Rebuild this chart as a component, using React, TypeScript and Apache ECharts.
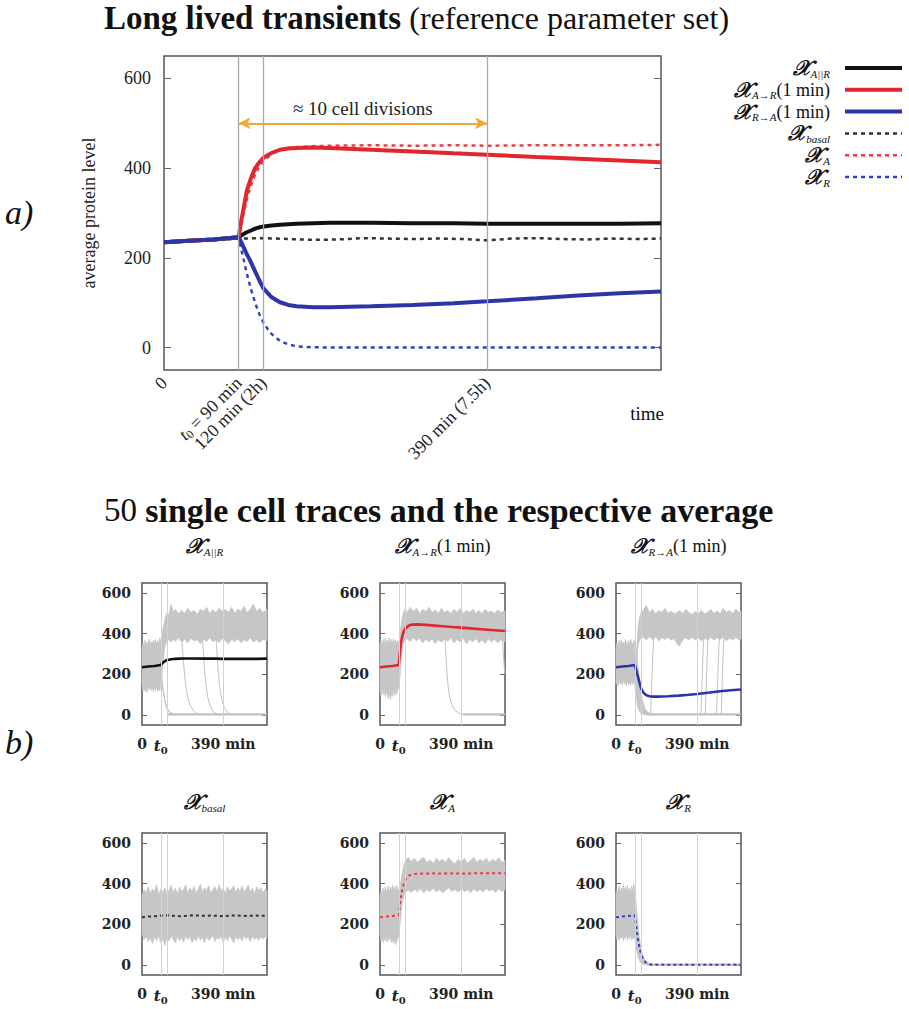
import React, { useEffect, useRef } from 'react';
import * as echarts from 'echarts';

const SERIF = "'Liberation Serif', 'DejaVu Serif', serif";
const BSERIF = "'DejaVu Serif', 'Liberation Serif', serif";
const CHI = '𝒳';

const X_MIN = 0;
const X_MAX = 600;
const Y_MIN = -50;
const Y_MAX = 650;
const yTicks = [0, 200, 400, 600];
const mainXTicks = [0, 90, 120, 390];
const mainXLabels = ['{n|0}', '{it|t}{sub|0}{n| = 90 min}', '{n|120 min (2h)}', '{n|390 min (7.5h)}'];
const panelXTicks = [0, 90, 390];
const panelXLabels = ['0', '{it|t}{sub|0}', '390 min'];
const markerTimes = [90, 120, 390];
const arrowStart = [90, 500];
const arrowEnd = [390, 500];
const arrowText = '≈ 10 cell divisions';

// ---- averages (main panel) ----
const avgAR = [[0,235],[30,238],[60,241],[90,246],[95,252],[100,257],[105,261],[110,265],[115,268],[120,270],[130,272],[140,274],[150,275],[160,276],[180,277],[200,278],[250,278],[300,277],[350,277],[390,276],[450,276],[500,276],[550,276],[600,277]];
const avgAtoR = [[0,235],[30,238],[60,241],[90,246],[93,280],[95,300],[100,350],[105,378],[110,400],[115,413],[120,423],[130,434],[140,441],[150,444],[160,445],[180,446],[200,445],[250,441],[300,437],[350,433],[390,430],[450,425],[500,421],[550,417],[600,413]];
const avgRtoA = [[0,235],[30,238],[60,241],[90,246],[93,236],[96,224],[100,208],[104,194],[110,170],[115,150],[120,132],[130,112],[140,101],[150,95],[160,92],[180,90],[200,90],[250,92],[300,95],[350,99],[390,103],[450,110],[500,116],[550,121],[600,125]];
const avgBasal = [[0,235],[30,238],[60,240],[90,243],[120,244],[150,242],[180,240],[210,241],[240,244],[270,243],[300,242],[330,243],[360,242],[390,239],[420,243],[450,244],[480,242],[510,241],[540,243],[570,242],[600,243]];
const avgA = [[0,235],[30,238],[60,241],[90,245],[95,290],[100,330],[105,362],[110,385],[115,403],[120,416],[130,432],[140,441],[150,445],[160,447],[180,449],[200,450],[250,451],[300,450],[350,451],[390,450],[450,451],[500,451],[550,451],[600,452]];
const avgR = [[0,235],[30,238],[60,241],[90,245],[95,205],[100,165],[105,130],[110,100],[115,75],[120,56],[125,42],[130,30],[140,15],[150,7],[160,3],[175,1],[200,0],[250,0],[300,0],[350,0],[400,0],[450,0],[500,0],[550,0],[600,0]];

// ---- single-cell envelopes [t, low, high] ----
const bandAR = [[0,150,330],[5,120,355],[10,140,345],[15,115,370],[20,135,340],[25,110,360],[30,140,350],[35,125,375],[40,145,345],[45,118,362],[50,138,350],[55,112,368],[60,135,348],[65,120,372],[70,140,352],[75,115,365],[80,130,345],[85,118,378],[90,140,360],[95,190,390],[100,250,420],[105,300,445],[110,335,470],[115,350,490],[120,365,505],[130,370,495],[140,358,545],[150,375,505],[160,362,520],[175,380,498],[190,360,515],[205,372,500],[220,355,525],[235,378,505],[250,365,515],[265,370,495],[280,350,520],[295,375,510],[310,362,530],[325,380,500],[340,360,518],[355,372,505],[370,355,525],[385,378,510],[400,365,520],[415,350,505],[430,372,530],[445,360,500],[460,375,522],[475,355,510],[490,370,535],[505,362,505],[520,380,520],[535,358,545],[550,370,510],[565,355,525],[580,372,505],[600,365,520]];
const bandAtoR = [[0,120,345],[5,95,365],[10,130,340],[15,100,372],[20,125,350],[25,90,378],[30,115,345],[35,100,368],[40,80,355],[45,110,380],[50,75,350],[55,105,372],[60,90,348],[65,120,375],[70,95,352],[75,115,370],[80,100,345],[85,125,365],[90,130,355],[94,160,370],[98,220,410],[102,280,445],[106,320,475],[110,345,495],[115,360,510],[120,370,520],[130,375,505],[145,362,530],[160,380,510],[175,365,525],[190,378,500],[205,355,520],[220,372,508],[235,360,530],[250,375,505],[265,352,518],[280,370,500],[295,358,525],[310,375,505],[325,362,515],[340,380,498],[355,355,520],[370,372,505],[385,360,525],[400,378,500],[415,350,515],[430,372,505],[445,360,522],[460,375,500],[475,355,515],[490,370,498],[505,352,520],[520,375,505],[535,360,512],[550,372,500],[565,355,518],[580,370,505],[600,360,512]];
const bandRtoAPre = [[0,150,330],[5,168,352],[10,142,340],[15,172,366],[20,150,345],[25,162,370],[30,146,350],[35,170,360],[40,152,340],[45,166,372],[50,142,355],[55,168,345],[60,150,368],[65,160,350],[70,146,372],[75,170,356],[80,150,345],[85,162,368],[90,150,360],[95,105,335],[100,65,295],[105,38,245],[110,22,195],[115,12,150],[120,6,110],[130,2,60],[140,0,30],[150,0,15],[165,0,6],[180,0,3]];
const bandRtoAHigh = [[98,250,290],[102,300,370],[106,340,425],[110,360,460],[115,372,488],[120,380,505],[130,385,515],[145,370,540],[160,385,505],[175,372,520],[190,385,498],[205,365,515],[220,380,505],[235,372,525],[250,382,500],[265,368,512],[280,378,498],[295,345,505],[305,340,515],[320,370,500],[335,380,520],[350,368,505],[365,382,495],[380,370,510],[395,380,500],[410,365,515],[425,378,498],[440,370,505],[455,382,520],[470,368,500],[485,380,512],[500,372,498],[515,385,525],[530,365,505],[545,378,515],[560,370,500],[575,382,522],[590,368,505],[600,375,512]];
const bandBasal = [[0,150,345],[10,125,370],[20,140,355],[30,115,385],[40,135,350],[50,105,375],[60,140,360],[70,120,395],[80,145,345],[90,110,372],[100,130,358],[110,95,380],[120,138,350],[130,118,368],[140,145,392],[150,125,355],[160,108,378],[170,140,348],[180,120,385],[190,135,360],[200,112,372],[210,145,395],[220,125,350],[230,140,380],[240,110,362],[250,132,388],[260,118,352],[270,145,375],[280,122,398],[290,135,358],[300,108,380],[310,140,365],[320,120,390],[330,130,352],[340,145,372],[350,115,385],[360,135,358],[370,125,395],[380,142,362],[390,112,378],[400,138,350],[410,120,385],[420,145,365],[430,128,375],[440,110,390],[450,140,355],[460,125,380],[470,135,362],[480,118,388],[490,145,358],[500,128,375],[510,138,392],[520,115,360],[530,142,378],[540,125,350],[550,135,385],[560,120,368],[570,140,380],[580,128,355],[590,138,372],[600,130,365]];
const bandA = [[0,150,340],[5,120,365],[10,140,345],[15,110,378],[20,135,350],[25,118,385],[30,142,355],[35,112,372],[40,130,390],[45,120,360],[50,138,382],[55,110,365],[60,128,395],[65,105,370],[70,125,385],[75,100,360],[80,115,392],[85,130,375],[90,140,365],[95,190,380],[100,240,410],[105,290,440],[110,325,470],[115,345,492],[120,355,505],[125,362,515],[135,368,530],[150,358,510],[165,372,525],[180,360,505],[195,375,520],[210,355,530],[225,370,505],[240,362,518],[255,378,500],[270,360,525],[285,372,510],[300,355,520],[315,368,505],[330,380,528],[345,362,510],[360,372,498],[375,358,520],[390,375,505],[405,362,525],[420,370,500],[435,355,515],[450,375,530],[465,362,505],[480,372,520],[495,358,510],[510,375,525],[525,365,505],[540,372,520],[555,358,510],[570,375,528],[585,362,505],[600,370,515]];
const bandR = [[0,145,350],[5,125,372],[10,150,355],[15,120,390],[20,140,360],[25,130,380],[30,150,352],[35,118,395],[40,140,365],[45,128,385],[50,148,358],[55,122,392],[60,140,362],[65,130,380],[70,150,355],[75,120,388],[80,138,365],[85,128,400],[90,140,360],[95,100,320],[100,68,262],[105,44,205],[110,28,155],[115,16,110],[120,9,78],[130,3,42],[140,1,22],[150,0,11],[165,0,5],[180,0,2]];

// ---- individual single-cell traces [t, v] ----
const traceARdown1 = [[90,235],[95,185],[100,140],[105,100],[110,70],[115,48],[120,32],[130,15],[140,7],[150,3],[165,0]];
const traceARdown2 = [[90,210],[97,150],[104,100],[112,60],[120,35],[130,18],[145,6],[160,1]];
const traceARzero = [[120,2],[600,2]];
const traceARswitch1 = [[185,430],[190,390],[195,320],[200,250],[205,190],[212,130],[220,85],[232,45],[248,18],[265,5],[285,0]];
const traceARswitch2 = [[288,410],[292,350],[297,270],[302,200],[308,140],[316,85],[328,40],[345,12],[365,2]];
const traceARswitch3 = [[352,420],[357,350],[362,270],[367,200],[374,130],[383,75],[395,35],[412,10],[430,1]];
const traceAtoRdecay = [[310,400],[314,340],[318,270],[322,200],[327,140],[334,90],[345,50],[360,22],[380,8],[400,2]];
const traceAtoRzero = [[400,2],[600,2]];
const traceAtoRlate = [[585,420],[589,360],[593,290],[597,230],[600,200]];
const traceRtoAzero = [[150,2],[600,2]];
const traceRtoAup1 = [[165,0],[168,50],[172,160],[176,280],[181,380],[188,430]];
const traceRtoAup2 = [[407,0],[411,90],[415,220],[419,340],[425,420]];
const traceRtoAup3 = [[428,0],[432,110],[436,240],[440,350],[446,420]];
const traceRtoAup4 = [[482,0],[486,100],[490,230],[494,340],[500,420]];
const traceRtoAup5 = [[505,0],[509,130],[513,270],[518,380],[524,430]];
const traceRzero = [[150,1],[600,1]];

const BLACK = '#111111';
const RED = '#e3262e';
const BLUE = '#2c35a8';
const DRED = '#ef3b45';
const DBLUE = '#3441c2';
const DBLACK = '#333333';
const GREY = '#c6c6c6';
const ORANGE = '#f5a63a';

const legendItems = [
  { text: `{c|${CHI}}{s|A||R}`, color: BLACK, width: 4, dash: null },
  { text: `{c|${CHI}}{s|A→R}{n|(1 min)}`, color: RED, width: 4, dash: null },
  { text: `{c|${CHI}}{s|R→A}{n|(1 min)}`, color: BLUE, width: 4, dash: null },
  { text: `{c|${CHI}}{s|basal}`, color: DBLACK, width: 2.5, dash: [4, 4] },
  { text: `{c|${CHI}}{s|A}`, color: DRED, width: 2.5, dash: [4, 4] },
  { text: `{c|${CHI}}{s|R}`, color: DBLUE, width: 2.5, dash: [4, 4] },
];

const panels = [
  { title: `{c|${CHI}}{s|A||R}`, bands: [bandAR], traces: [traceARdown1, traceARdown2, traceARswitch1, traceARswitch2, traceARswitch3], zero: traceARzero, mean: avgAR, color: BLACK, dotted: false },
  { title: `{c|${CHI}}{s|A→R}{n|(1 min)}`, bands: [bandAtoR], traces: [traceAtoRdecay, traceAtoRlate], zero: traceAtoRzero, mean: avgAtoR, color: RED, dotted: false },
  { title: `{c|${CHI}}{s|R→A}{n|(1 min)}`, bands: [bandRtoAPre, bandRtoAHigh], traces: [traceRtoAup1, traceRtoAup2, traceRtoAup3, traceRtoAup4, traceRtoAup5], zero: traceRtoAzero, mean: avgRtoA, color: BLUE, dotted: false },
  { title: `{c|${CHI}}{s|basal}`, bands: [bandBasal], traces: [], zero: null, mean: avgBasal, color: DBLACK, dotted: true },
  { title: `{c|${CHI}}{s|A}`, bands: [bandA], traces: [], zero: null, mean: avgA, color: DRED, dotted: true },
  { title: `{c|${CHI}}{s|R}`, bands: [bandR], traces: [], zero: traceRzero, mean: avgR, color: DBLUE, dotted: true },
];

const panelLefts = [142, 380, 616];
const panelTops = [583, 833];
const PANEL_W = 125;
const PANEL_H = 142;

function chiRich(size: number) {
  return {
    c: { fontSize: size + 3, fontFamily: SERIF, fontStyle: 'italic', fontWeight: 'bold', fill: '#111', color: '#111', lineHeight: 22 },
    s: { fontSize: Math.round(size * 0.62), fontFamily: SERIF, fontStyle: 'italic', fill: '#111', color: '#111', lineHeight: 13, verticalAlign: 'bottom' },
    n: { fontSize: size, fontFamily: SERIF, fill: '#111', color: '#111', lineHeight: 22 },
  };
}

function lineSeries(gi: number, data: number[][], color: string, width: number, dash: any, z: number) {
  return {
    type: 'line', xAxisIndex: gi, yAxisIndex: gi, data, symbol: 'none', showSymbol: false, silent: true,
    lineStyle: { color, width, type: dash || 'solid' }, z,
  };
}

function bandSeries(gi: number, data: number[][], color: string) {
  return {
    type: 'custom', xAxisIndex: gi, yAxisIndex: gi, data, silent: true, z: 1,
    encode: { x: 0, y: [1, 2] },
    renderItem: (params: any, api: any) => {
      if (params.dataIndexInside !== 0) return null;
      const n = params.dataInsideLength;
      const lower: number[][] = [];
      const upper: number[][] = [];
      for (let i = 0; i < n; i++) {
        const x = api.value(0, i);
        lower.push(api.coord([x, api.value(1, i)]));
        upper.push(api.coord([x, api.value(2, i)]));
      }
      return { type: 'polygon', shape: { points: lower.concat(upper.reverse()) }, style: { fill: color, stroke: color, lineWidth: 0.8 } };
    },
  };
}

function verticalSeries(gi: number, color: string, width: number) {
  return {
    type: 'line', xAxisIndex: gi, yAxisIndex: gi, data: [], silent: true, z: 2,
    markLine: {
      silent: true, symbol: ['none', 'none'], label: { show: false },
      lineStyle: { color, width, type: 'solid' },
      data: markerTimes.map((t) => ({ xAxis: t })),
    },
  };
}

function buildOption() {
  const grids: any[] = [{ left: 164, top: 56, width: 497, height: 314, show: true, borderColor: '#555', borderWidth: 1.5, backgroundColor: 'transparent' }];
  panels.forEach((_, i) => {
    grids.push({ left: panelLefts[i % 3], top: panelTops[Math.floor(i / 3)], width: PANEL_W, height: PANEL_H, show: true, borderColor: '#555', borderWidth: 1.5, backgroundColor: 'transparent' });
  });

  const mainXRich = {
    n: { fontSize: 18, fontFamily: SERIF, color: '#222', lineHeight: 20 },
    it: { fontSize: 18, fontFamily: SERIF, fontStyle: 'italic', color: '#222', lineHeight: 20 },
    sub: { fontSize: 12, fontFamily: SERIF, color: '#222', lineHeight: 12, verticalAlign: 'bottom' },
  };
  const panelXRich = {
    it: { fontSize: 15, fontFamily: BSERIF, fontStyle: 'italic', fontWeight: 'bold', color: '#222', lineHeight: 18 },
    sub: { fontSize: 10, fontFamily: BSERIF, color: '#222', lineHeight: 11, verticalAlign: 'bottom' },
  };

  const xAxis: any[] = grids.map((_, i) => ({
    type: 'value', gridIndex: i, min: X_MIN, max: X_MAX,
    axisLine: { show: false }, axisTick: { show: false }, splitLine: { show: false },
    axisLabel: i === 0
      ? { customValues: mainXTicks, rotate: 45, margin: 10, rich: mainXRich,
          formatter: (v: number) => mainXLabels[mainXTicks.indexOf(v)] ?? '' }
      : { customValues: panelXTicks, margin: 12, fontSize: 14, fontWeight: 'bold', fontFamily: BSERIF, color: '#222', rich: panelXRich,
          formatter: (v: number) => panelXLabels[panelXTicks.indexOf(v)] ?? '' },
  }));

  const yAxis: any[] = [];
  grids.forEach((_, i) => {
    const main = i === 0;
    yAxis.push({
      type: 'value', gridIndex: i, min: Y_MIN, max: Y_MAX, position: 'left',
      axisLine: { show: false }, splitLine: { show: false },
      axisTick: { show: true, inside: true, length: main ? 7 : 5, customValues: yTicks, lineStyle: { color: '#666', width: 1 } },
      axisLabel: main
        ? { customValues: yTicks, margin: 13, fontSize: 18, fontFamily: SERIF, color: '#222' }
        : { customValues: yTicks, margin: 11, fontSize: 14, fontWeight: 'bold', fontFamily: BSERIF, color: '#222' },
      ...(main ? { name: 'average protein level', nameLocation: 'middle', nameGap: 66, nameTextStyle: { fontSize: 18, fontFamily: SERIF, color: '#222' } } : {}),
    });
  });
  grids.forEach((_, i) => {
    yAxis.push({
      type: 'value', gridIndex: i, min: Y_MIN, max: Y_MAX, position: 'right',
      axisLine: { show: false }, splitLine: { show: false },
      axisTick: { show: true, inside: true, length: i === 0 ? 7 : 5, customValues: yTicks, lineStyle: { color: '#666', width: 1 } },
      axisLabel: { show: false, customValues: yTicks },
    });
  });

  const series: any[] = [];
  series.push(verticalSeries(0, '#a8a8a8', 1.3));
  series.push(lineSeries(0, avgBasal, DBLACK, 2.5, [4, 4], 3));
  series.push(lineSeries(0, avgA, DRED, 2.5, [4, 4], 3));
  series.push(lineSeries(0, avgR, DBLUE, 2.5, [4, 4], 3));
  series.push(lineSeries(0, avgAR, BLACK, 4, null, 4));
  series.push(lineSeries(0, avgAtoR, RED, 4, null, 4));
  series.push(lineSeries(0, avgRtoA, BLUE, 4, null, 4));
  series.push({
    type: 'line', xAxisIndex: 0, yAxisIndex: 0, data: [], silent: true, z: 5,
    markLine: {
      silent: true, symbol: ['arrow', 'arrow'], symbolSize: [9, 12],
      lineStyle: { color: ORANGE, width: 2, type: 'solid' },
      label: { show: true, position: 'insideMiddleTop', formatter: arrowText, fontSize: 19, fontFamily: SERIF, color: '#222', distance: 5 },
      data: [[{ coord: arrowStart }, { coord: arrowEnd }]],
    },
  });

  panels.forEach((p, i) => {
    const gi = i + 1;
    p.bands.forEach((b) => series.push(bandSeries(gi, b, GREY)));
    p.traces.forEach((t) => series.push(lineSeries(gi, t, '#c2c2c2', 1, null, 2)));
    if (p.zero) series.push(lineSeries(gi, p.zero, '#c0c0c0', 2.2, null, 2));
    series.push(verticalSeries(gi, '#d2d2d2', 1));
    series.push(lineSeries(gi, p.mean, p.color, p.dotted ? 2 : 2.6, p.dotted ? [3, 3] : null, 4));
  });

  const graphic: any[] = [];
  const txt = (style: any) => ({ type: 'text', silent: true, style });
  graphic.push(txt({
    text: '{b|Long lived transients }{n|(reference parameter set)}', x: 104, y: 18,
    align: 'left', textAlign: 'left', verticalAlign: 'middle', textVerticalAlign: 'middle',
    rich: {
      b: { fontSize: 33, fontWeight: 'bold', fontFamily: SERIF, fill: '#111' },
      n: { fontSize: 32, fontFamily: SERIF, fill: '#111' },
    },
  }));
  graphic.push(txt({
    text: '{n|50 }{b|single cell traces and the respective average}', x: 104, y: 510,
    align: 'left', textAlign: 'left', verticalAlign: 'middle', textVerticalAlign: 'middle',
    rich: {
      b: { fontSize: 34, fontWeight: 'bold', fontFamily: SERIF, fill: '#111' },
      n: { fontSize: 33, fontFamily: SERIF, fill: '#111' },
    },
  }));
  graphic.push(txt({ text: 'a)', x: 5, y: 212, fontSize: 34, fontStyle: 'italic', fontFamily: SERIF, fill: '#111', verticalAlign: 'middle', textVerticalAlign: 'middle' }));
  graphic.push(txt({ text: 'b)', x: 5, y: 742, fontSize: 34, fontStyle: 'italic', fontFamily: SERIF, fill: '#111', verticalAlign: 'middle', textVerticalAlign: 'middle' }));
  graphic.push(txt({ text: 'time', x: 664, y: 413, fontSize: 19, fontFamily: SERIF, fill: '#111', align: 'right', textAlign: 'right', verticalAlign: 'middle', textVerticalAlign: 'middle' }));

  legendItems.forEach((it, k) => {
    const y = 68 + k * 21.8;
    graphic.push(txt({ text: it.text, x: 830, y, align: 'right', textAlign: 'right', verticalAlign: 'middle', textVerticalAlign: 'middle', rich: chiRich(18) }));
    graphic.push({ type: 'line', silent: true, shape: { x1: 845, y1: y, x2: 902, y2: y }, style: { stroke: it.color, lineWidth: it.width, lineDash: it.dash || undefined } });
  });

  panels.forEach((p, i) => {
    const cx = panelLefts[i % 3] + PANEL_W / 2;
    const cy = i < 3 ? 546 : 802;
    graphic.push(txt({ text: p.title, x: cx, y: cy, align: 'center', textAlign: 'center', verticalAlign: 'middle', textVerticalAlign: 'middle', rich: chiRich(18) }));
  });

  return { animation: false, backgroundColor: '#ffffff', grid: grids, xAxis, yAxis, series, graphic };
}

export default function App() {
  const ref = useRef<HTMLDivElement>(null);
  useEffect(() => {
    const chart = echarts.init(ref.current!, null, { renderer: 'svg' });
    chart.setOption(buildOption() as any);
    return () => chart.dispose();
  }, []);
  return <div ref={ref} style={{ position: 'absolute', left: 0, top: 0, width: 909, height: 1009, background: '#fff' }} />;
}
